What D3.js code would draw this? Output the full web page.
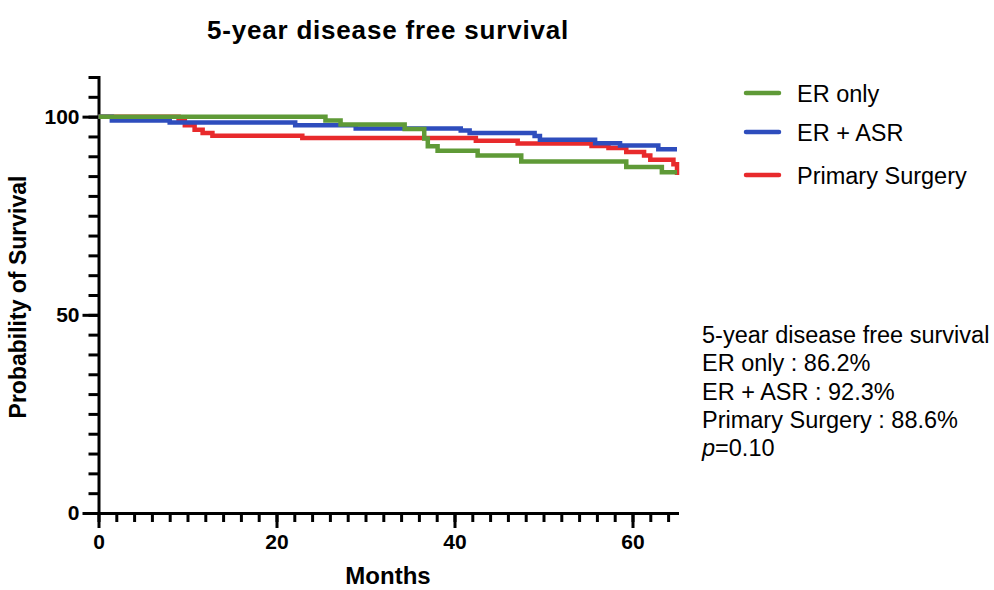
<!DOCTYPE html>
<html lang="en">
<head>
    <meta charset="UTF-8">
    <title>5-year disease free survival</title>
    <script src="https://cdn.jsdelivr.net/npm/d3@7/dist/d3.min.js"></script>
    <style>
        body { margin: 0; background: #fff; }
        svg { font-family: "Liberation Sans", Arial, sans-serif; }
        .axis path, .axis line { stroke: #000; stroke-width: 3px; }
        .axis text { font-size: 21px; font-weight: bold; fill: #000; }
    </style>
</head>
<body>
<script>
    // 数据: 月份与生存概率 (阶梯)
    const erOnlyMonths = [0, 25.5, 27.2, 34.4, 36.6, 37.0, 38.1, 42.6, 47.5, 59.3, 63.3, 65];
    const erOnlySurv   = [100, 99.0, 98.0, 96.9, 94.5, 92.5, 91.4, 90.2, 88.7, 87.3, 86.0, 86.0];

    const erAsrMonths = [0, 1.5, 8.0, 22.1, 28.9, 40.7, 41.7, 49.0, 49.6, 55.8, 58.6, 62.9, 65];
    const erAsrSurv   = [100, 99.0, 98.5, 97.8, 97.0, 96.5, 95.9, 95.1, 94.2, 93.3, 92.7, 91.8, 91.8];

    const surgeryMonths = [0, 9.0, 9.7, 10.8, 11.7, 12.8, 22.9, 42.4, 47.1, 55.4, 57.3, 59.3, 61.3, 62.0, 64.6, 65];
    const surgerySurv   = [100, 98.9, 97.8, 96.7, 95.9, 95.2, 94.6, 93.9, 93.2, 92.6, 92.1, 91.1, 90.2, 89.1, 88.0, 85.3];

    const seriesNames = ['ER only', 'ER + ASR', 'Primary Surgery'];
    const seriesColors = ['#5f9a37', '#2e4dbd', '#e82a2c'];

    const xMajorTicks = [0, 20, 40, 60];
    const yMajorTicks = [0, 50, 100];

    const noteLines = ['5-year disease free survival', 'ER only : 86.2%', 'ER + ASR : 92.3%', 'Primary Surgery : 88.6%'];

    const width = 994;
    const height = 590;

    let svg = d3.select('body')
        .append('svg')
        .attr('width', width)
        .attr('height', height);

    const x = d3.scaleLinear().domain([0, 65]).range([98.5, 677]);
    const y = d3.scaleLinear().domain([0, 110]).range([513, 77]);

    // 标题
    svg.append('text')
        .attr('x', 388)
        .attr('y', 39)
        .attr('text-anchor', 'middle')
        .style('font-size', '26px')
        .style('font-weight', 'bold')
        .style('letter-spacing', '0.8px')
        .text('5-year disease free survival');

    // x 轴: 次刻度 + 主刻度
    svg.append('g')
        .attr('class', 'axis')
        .attr('transform', 'translate(0,' + y(0) + ')')
        .call(d3.axisBottom(x).tickValues(d3.range(0, 66, 2)).tickSize(9).tickFormat(''))
        .call(g => g.select('.domain').remove());
    svg.append('g')
        .attr('class', 'axis')
        .attr('transform', 'translate(0,' + y(0) + ')')
        .call(d3.axisBottom(x).tickValues(xMajorTicks).tickSize(15).tickSizeOuter(0).tickPadding(6))
        .call(g => g.select('.domain').attr('stroke-linecap', 'square'));

    // y 轴
    svg.append('g')
        .attr('class', 'axis')
        .attr('transform', 'translate(' + x(0) + ',0)')
        .call(d3.axisLeft(y).tickValues(d3.range(0, 111, 5)).tickSize(10).tickFormat(''))
        .call(g => g.select('.domain').remove());
    svg.append('g')
        .attr('class', 'axis')
        .attr('transform', 'translate(' + x(0) + ',0)')
        .call(d3.axisLeft(y).tickValues(yMajorTicks).tickSize(16).tickSizeOuter(0).tickPadding(3))
        .call(g => g.select('.domain').attr('stroke-linecap', 'square'));

    // 轴标题
    svg.append('text')
        .attr('x', 388)
        .attr('y', 584)
        .attr('text-anchor', 'middle')
        .style('font-size', '24px')
        .style('font-weight', 'bold')
        .text('Months');

    svg.append('text')
        .attr('transform', 'translate(26,297) rotate(-90)')
        .attr('text-anchor', 'middle')
        .style('font-size', '23px')
        .style('font-weight', 'bold')
        .text('Probability of Survival');

    // 生存曲线
    const allSeries = [
        { months: surgeryMonths, surv: surgerySurv, color: seriesColors[2] },
        { months: erAsrMonths, surv: erAsrSurv, color: seriesColors[1] },
        { months: erOnlyMonths, surv: erOnlySurv, color: seriesColors[0] }
    ];

    const line = d3.line()
        .x(d => x(d[0]))
        .y(d => y(d[1]))
        .curve(d3.curveStepAfter);

    svg.append('g')
        .selectAll('path')
        .data(allSeries)
        .enter()
        .append('path')
        .attr('fill', 'none')
        .attr('stroke', d => d.color)
        .attr('stroke-width', 4.5)
        .attr('d', d => line(d.months.map((m, i) => [m, d.surv[i]])));

    // 图例
    const legend = svg.append('g')
        .selectAll('g')
        .data(seriesNames)
        .enter()
        .append('g')
        .attr('transform', (d, i) => 'translate(0,' + [93, 132, 175][i] + ')');

    legend.append('line')
        .attr('x1', 746)
        .attr('x2', 779)
        .attr('stroke', (d, i) => seriesColors[i])
        .attr('stroke-width', 4.5)
        .attr('stroke-linecap', 'round');

    legend.append('text')
        .attr('x', 797)
        .attr('y', 8.5)
        .style('font-size', '23.5px')
        .text(d => d);

    // 注释
    const note = svg.append('g');
    noteLines.forEach((t, i) => {
        note.append('text')
            .attr('x', 702)
            .attr('y', 343 + i * 28.3)
            .style('font-size', '23.5px')
            .text(t);
    });
    const pText = note.append('text')
        .attr('x', 702)
        .attr('y', 343 + 4 * 28.3)
        .style('font-size', '23.5px');
    pText.append('tspan').style('font-style', 'italic').text('p');
    pText.append('tspan').text('=0.10');
</script>
</body>
</html>
